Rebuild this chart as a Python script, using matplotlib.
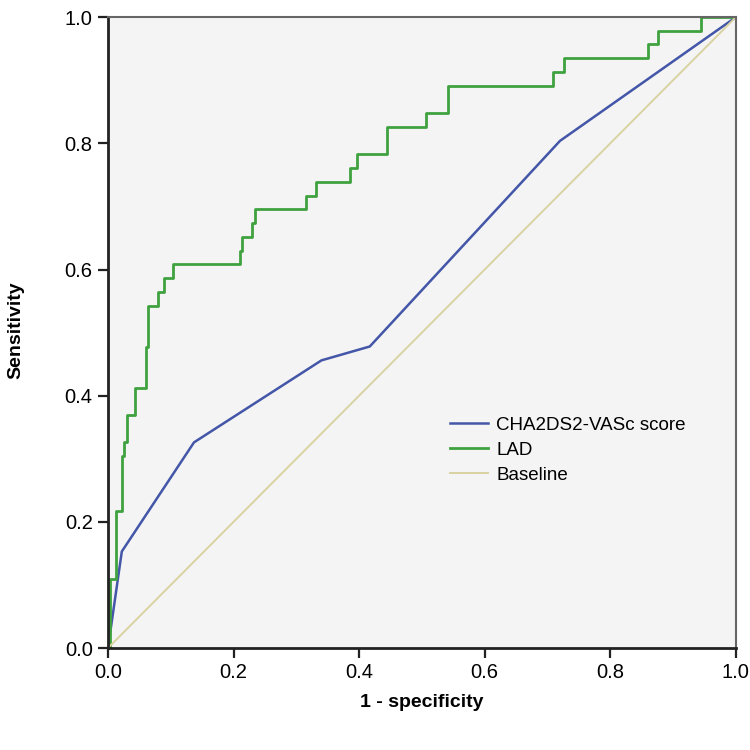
import matplotlib.pyplot as plt

plt.rcParams['font.family'] = ['Liberation Sans', 'DejaVu Sans']

# CHA2DS2-VASc score ROC points
cha_fpr = [0.0, 0.022, 0.137, 0.340, 0.417, 0.720, 1.0]
cha_tpr = [0.0, 0.153, 0.326, 0.456, 0.478, 0.804, 1.0]

# LAD ROC (step corners)
lad_fpr = [0.000, 0.003, 0.013, 0.022, 0.026, 0.031, 0.043, 0.060, 0.063,
           0.080, 0.089, 0.104, 0.210, 0.214, 0.230, 0.234, 0.315, 0.332,
           0.385, 0.396, 0.445, 0.506, 0.542, 0.709, 0.726, 0.860, 0.876,
           0.944, 1.000]
lad_tpr = [0.000, 0.109, 0.217, 0.304, 0.326, 0.370, 0.413, 0.478, 0.543,
           0.565, 0.587, 0.609, 0.630, 0.652, 0.674, 0.696, 0.717, 0.739,
           0.761, 0.783, 0.826, 0.848, 0.891, 0.913, 0.935, 0.957, 0.978,
           1.000, 1.000]

base = [0.0, 1.0]

fig = plt.figure(figsize=(7.5, 7.5), dpi=100)
ax = fig.add_axes([0.144, 0.136, 0.837, 0.841])
ax.set_facecolor('#f4f4f4')

ax.plot(cha_fpr, cha_tpr, color='#4356a8', lw=1.8, label='CHA2DS2-VASc score')
ax.step(lad_fpr, lad_tpr, where='post', color='#3fa23f', lw=2.0, label='LAD')
ax.plot(base, base, color='#d9d3a2', lw=1.4, label='Baseline')

ax.set_xlim(0, 1)
ax.set_ylim(0, 1)
ticks = [0.0, 0.2, 0.4, 0.6, 0.8, 1.0]
ax.set_xticks(ticks)
ax.set_yticks(ticks)
ax.set_xticklabels(['%.1f' % t for t in ticks])
ax.set_yticklabels(['%.1f' % t for t in ticks])
ax.tick_params(direction='out', length=7, width=1.6, labelsize=14.5, pad=4,
               color='#222222')

for s in ['left', 'bottom']:
    ax.spines[s].set_linewidth(2.0)
    ax.spines[s].set_color('#222222')
for s in ['top', 'right']:
    ax.spines[s].set_linewidth(1.5)
    ax.spines[s].set_color('#666666')

ax.set_xlabel('1 - specificity', fontsize=14, fontweight='bold')
ax.set_ylabel('Sensitivity', fontsize=14, fontweight='bold')
ax.xaxis.set_label_coords(0.5, -0.073)
ax.yaxis.set_label_coords(-0.134, 0.504)

ax.legend(loc='center left', bbox_to_anchor=(0.545, 0.314), frameon=False,
          fontsize=13.5, handlelength=2.0, handletextpad=0.45,
          labelspacing=0.42, borderpad=0, borderaxespad=0)

plt.savefig('out.png', dpi=100)
